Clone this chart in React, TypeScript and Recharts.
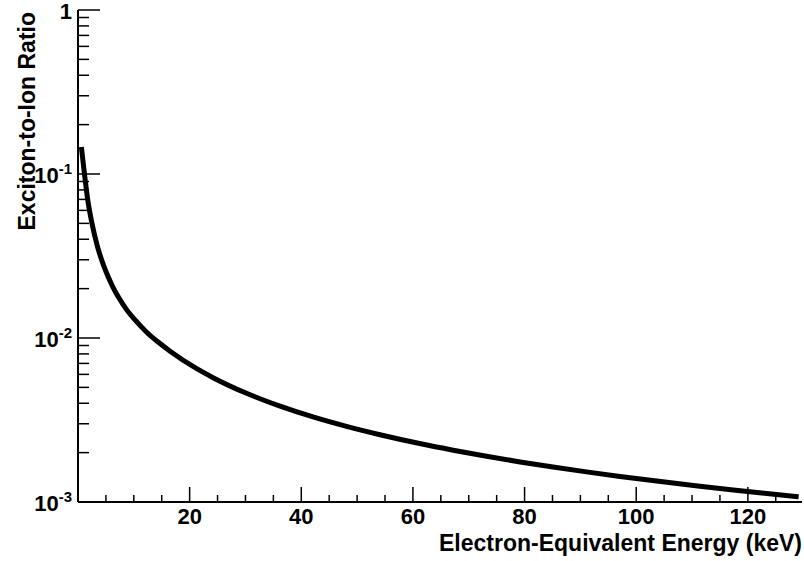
import React from 'react';
import { LineChart, Line, XAxis, YAxis, Label } from 'recharts';

const energy = [
  0.6, 1.16, 1.76, 2.53, 3.43, 4.6, 5.4, 6.3, 7.4, 8.7, 10.3, 12.3, 14.3, 16.5, 21.2, 24.2, 30.2,
  36.2, 42.1, 48.1, 54.1, 61.2, 67.2, 73.2, 79.2, 85.1, 91.1, 97.1, 105.5, 111.4, 117.4, 123.4,
  129.1,
];
const ratio = [
  0.146, 0.1, 0.069, 0.0495, 0.0367, 0.0276, 0.0236, 0.0203, 0.0174, 0.0149, 0.0128, 0.01085,
  0.00948, 0.00831, 0.00652, 0.00573, 0.0046, 0.00384, 0.0033, 0.00289, 0.00257, 0.002272,
  0.00207, 0.0019, 0.001755, 0.001633, 0.001526, 0.001432, 0.001318, 0.001248, 0.001184,
  0.001127, 0.001077,
];

const xTicks = [5, 10, 15, 20, 25, 30, 35, 40, 45, 50, 55, 60, 65, 70, 75, 80, 85, 90, 95, 100, 105, 110, 115, 120, 125];
const xMajor = [20, 40, 60, 80, 100, 120];

const yTicks = [
  0.001, 0.002, 0.003, 0.004, 0.005, 0.006, 0.007, 0.008, 0.009,
  0.01, 0.02, 0.03, 0.04, 0.05, 0.06, 0.07, 0.08, 0.09,
  0.1, 0.2, 0.3, 0.4, 0.5, 0.6, 0.7, 0.8, 0.9, 1,
];
const yMajor = [0.001, 0.01, 0.1, 1];
const yMajorExp = ['-3', '-2', '-1', ''];

const data = energy.map((e, i) => ({ energy: e, ratio: ratio[i] }));

const W = 804;
const H = 561;
const LEFT = 78;
const BOTTOM = 502;
const FONT = '"Liberation Sans", Arial, Helvetica, sans-serif';

const XTick = (props: any) => {
  const { x, payload } = props;
  const v = payload.value;
  const major = xMajor.includes(v);
  return (
    <g>
      <line x1={x} x2={x} y1={BOTTOM} y2={BOTTOM - (major ? 15 : 7)} stroke="#000" strokeWidth={1.5} />
      {major && (
        <text x={x} y={BOTTOM + 22} textAnchor="middle" fontFamily={FONT} fontWeight="bold" fontSize={22} fill="#000">
          {v}
        </text>
      )}
    </g>
  );
};

const YTick = (props: any) => {
  const { y, payload } = props;
  const v = payload.value;
  const idx = yMajor.indexOf(v);
  const major = idx >= 0;
  return (
    <g>
      <line x1={LEFT} x2={LEFT + (major ? 22 : 11)} y1={y} y2={y} stroke="#000" strokeWidth={1.5} />
      {major && (
        <text x={LEFT - 6} y={y + 9} textAnchor="end" fontFamily={FONT} fontWeight="bold" fontSize={22} fill="#000">
          {yMajorExp[idx] === '' ? (
            '1'
          ) : (
            <>
              10
              <tspan fontSize={15} dy={-9}>
                {yMajorExp[idx]}
              </tspan>
            </>
          )}
        </text>
      )}
    </g>
  );
};

const axisLine = { stroke: '#000', strokeWidth: 2 };

export default function App() {
  return (
    <div style={{ position: 'absolute', left: 0, top: 0, width: W, height: H, background: '#fff' }}>
      <LineChart width={W} height={H} data={data} margin={{ top: 10, right: 2, bottom: 0, left: 0 }}>
        <XAxis
          xAxisId="b"
          type="number"
          dataKey="energy"
          domain={[0, 129.7]}
          ticks={xTicks}
          interval={0}
          height={59}
          tickLine={false}
          axisLine={axisLine}
          tick={<XTick />}
        >
          <Label
            content={() => (
              <text x={802} y={551} textAnchor="end" fontFamily={FONT} fontWeight="bold" fontSize={23} fill="#000">
                Electron-Equivalent Energy (keV)
              </text>
            )}
          />
        </XAxis>
        <XAxis xAxisId="t" orientation="top" type="number" domain={[0, 129.7]} height={0} tick={false} tickLine={false} axisLine={axisLine} />
        <YAxis
          yAxisId="l"
          scale="log"
          type="number"
          domain={[0.001, 1]}
          ticks={yTicks}
          interval={0}
          width={LEFT}
          tickLine={false}
          axisLine={axisLine}
          tick={<YTick />}
        >
          <Label
            content={() => (
              <text
                x={35}
                y={12}
                transform="rotate(-90, 35, 12)"
                textAnchor="end"
                fontFamily={FONT}
                fontWeight="bold"
                fontSize={23}
                fill="#000"
              >
                Exciton-to-Ion Ratio
              </text>
            )}
          />
        </YAxis>
        <YAxis yAxisId="r" orientation="right" type="number" domain={[0, 1]} width={0} tick={false} tickLine={false} axisLine={axisLine} />
        <Line
          xAxisId="b"
          yAxisId="l"
          type="monotone"
          dataKey="ratio"
          stroke="#000"
          strokeWidth={5}
          dot={false}
          isAnimationActive={false}
        />
      </LineChart>
    </div>
  );
}
